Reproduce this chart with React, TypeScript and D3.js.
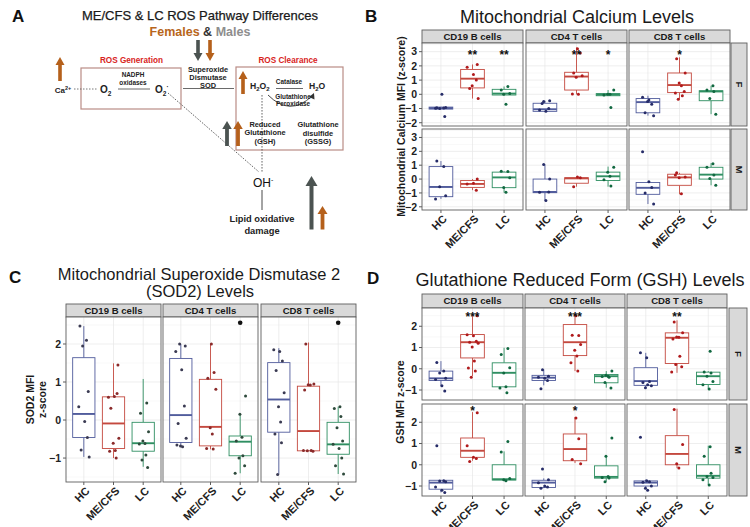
import React from "react";
import * as d3 from "d3";

// ---------- categories ----------
const GROUPS = ["HC", "ME/CFS", "LC"];
const CELLS = ["CD19 B cells", "CD4 T cells", "CD8 T cells"];
const SEXES = ["F", "M"];

// ---------- tick values ----------
const CA_TICKS = [-2, -1, 0, 1, 2, 3];
const SOD_TICKS = [-1, 0, 1, 2];
const GSH_TICKS = [-1, 0, 1, 2];

// ---------- box stats: [lower whisker, Q1, median, Q3, upper whisker] per cell type, per group ----------
const calciumBoxF = [
  [[-1.05, -1.04, -0.97, -0.9, -0.88], [-0.3, 0.45, 1.1, 1.75, 2.1], [-0.05, -0.05, 0.05, 0.35, 0.55]],
  [[-1.25, -1.2, -1.05, -0.63, -0.45], [0.0, 0.3, 1.25, 1.55, 3.3], [-0.1, -0.1, -0.02, 0.05, 0.3]],
  [[-1.5, -1.3, -0.55, -0.3, -0.1], [-0.35, 0.12, 0.65, 1.5, 2.6], [-1.4, -0.45, 0.2, 0.25, 0.6]],
];
const calciumBoxM = [
  [[-1.43, -1.27, -0.57, 0.9, 1.3], [-0.8, -0.6, -0.35, -0.1, 0.0], [-0.98, -0.62, 0.12, 0.5, 0.57]],
  [[-1.55, -0.98, -0.93, 0.0, 1.05], [-0.55, -0.3, 0.05, 0.1, 0.15], [-0.55, -0.1, 0.2, 0.5, 0.9]],
  [[-1.8, -1.1, -0.63, -0.25, -0.2], [-1.1, -0.45, 0.12, 0.35, 0.45], [-0.45, 0.0, 0.32, 0.85, 1.15]],
];
const sod2Box = [
  [[-0.97, -0.46, 0.16, 1.64, 2.47], [-1.0, -0.75, -0.09, 0.61, 1.49], [-1.23, -0.82, -0.61, -0.06, 1.08]],
  [[-0.7, -0.59, 0.13, 1.62, 2.0], [-0.77, -0.68, -0.18, 1.07, 2.0], [-1.4, -0.94, -0.57, -0.42, 0.15]],
  [[-1.43, -0.32, 0.54, 1.51, 1.89], [-0.81, -0.81, -0.29, 0.89, 2.04], [-1.42, -0.9, -0.64, -0.06, 0.35]],
];
const gshBoxF = [
  [[-0.81, -0.55, -0.45, -0.11, 0.36], [-0.35, 0.51, 1.25, 1.61, 2.55], [-0.85, -0.85, -0.19, 0.28, 0.99]],
  [[-0.78, -0.55, -0.42, -0.31, -0.03], [-0.11, 0.62, 1.25, 2.08, 2.55], [-0.89, -0.66, -0.35, -0.27, -0.11]],
  [[-0.89, -0.78, -0.58, 0.05, 0.75], [-0.19, 0.25, 1.46, 1.69, 2.28], [-0.97, -0.74, -0.35, -0.16, -0.11]],
];
const gshBoxM = [
  [[-1.3, -1.15, -0.84, -0.73, -0.73], [0.19, 0.35, 0.66, 1.26, 2.48], [-0.75, -0.72, -0.68, 0.0, 0.63]],
  [[-1.1, -1.07, -0.84, -0.73, -0.64], [0.08, 0.19, 0.74, 1.45, 2.24], [-0.79, -0.63, -0.57, -0.05, 0.43]],
  [[-1.1, -1.0, -0.84, -0.76, -0.7], [-0.16, 0.0, 0.51, 1.37, 2.64], [-0.95, -0.63, -0.52, 0.0, 0.9]],
];

// ---------- individual points per cell type, per group ----------
const calciumPtsF = [
  [[-0.95, -0.97, -1.0, -0.93, -0.98, 0.0, -1.57], [2.1, 1.9, 1.4, 1.0, 0.4, -0.3, 0.6], [0.55, 0.3, 0.05, 0.0, -0.7]],
  [[-0.5, -0.45, -1.1, -1.2, -1.0, -0.65], [3.2, 2.9, 1.5, 1.3, 1.2, 0.0, 0.02], [0.3, 0.0, 0.0, -0.05, -0.92]],
  [[-0.2, -0.4, -0.7, -1.3, -1.5, -0.5], [2.5, 1.5, 0.8, 0.6, 0.1, -0.1, -0.35, 0.2], [0.6, 0.3, 0.2, -0.3, -1.4]],
];
const calciumPtsM = [
  [[1.3, 0.9, -0.55, -1.2, -1.43], [0.0, -0.35, -0.3, -0.8], [0.55, 0.57, 0.1, -0.6, -0.95]],
  [[1.05, 0.0, -0.95, -1.55, -0.93], [0.15, 0.1, -0.55], [0.85, 0.5, 0.2, -0.05, -0.5]],
  [[1.97, -0.2, -0.6, -1.0, -1.8], [0.45, 0.15, 0.1, -1.05, 0.3], [1.1, 0.85, 0.3, 0.05, -0.45]],
];
const sod2Pts = [
  [[2.47, 2.1, 1.95, 0.75, 0.35, -0.04, -0.46, -0.79, -0.97], [1.45, 0.6, 0.62, 0.7, 0.31, -0.48, -0.61, -0.8, -0.82, -1.0], [0.45, 0.18, -0.31, -0.55, -0.62, -0.63, -0.92, -1.05, -1.25]],
  [[2.0, 1.95, 1.8, 1.32, 0.37, -0.09, -0.48, -0.68, -0.7, -0.66], [2.0, 1.25, 1.1, 0.81, -0.2, -0.37, -0.75, -0.76], [0.63, 0.15, -0.45, -0.55, -0.94, -1.0, -1.2, -1.4]],
  [[1.85, 1.8, 1.55, 1.3, 0.72, 0.35, -0.05, -0.37, -0.6, -1.43], [2.0, 0.95, 0.93, 0.92, 0.79, -0.8, -0.81, -0.82, -0.8], [0.35, 0.3, 0.09, -0.2, -0.55, -0.64, -0.75, -1.0, -1.2, -1.42]],
];
const gshPtsF = [
  [[0.3, -0.1, -0.2, -0.45, -0.5, -0.8, -1.05], [2.5, 1.6, 1.55, 1.3, 1.25, 1.2, 1.03, 0.36, 0.04, -0.1, -0.4], [0.95, 0.67, 0.05, -0.2, -0.85, -0.9, -1.13]],
  [[-0.05, -0.35, -0.4, -0.45, -0.55, -0.94], [2.5, 1.56, 1.58, 1.14, 0.87, 0.6, 0.28, -0.1], [-0.1, -0.3, -0.35, -0.36, -0.4, -0.65, -0.9]],
  [[0.75, 0.52, -0.6, -0.65, -0.8, -0.89, -0.75], [2.2, 1.7, 1.5, 1.48, 1.4, 0.59, 0.2, 0.1, -0.15], [0.83, -0.15, -0.2, -0.35, -0.6, -0.75, -0.95]],
];
const gshPtsM = [
  [[0.9, -0.75, -0.76, -0.8, -1.05, -1.2, -1.3], [2.45, 0.9, 0.35, 0.3, 0.15], [1.1, 0.6, -0.65, -0.7, -0.75]],
  [[-0.2, -0.7, -0.85, -1.0, -1.05, -1.1], [2.2, 1.22, 0.25, 0.05], [1.26, 0.4, -0.55, -0.6, -0.62, -0.8]],
  [[1.29, -0.75, -0.8, -0.82, -1.0, -1.1, -1.2], [2.6, 0.95, 0.05, -0.15], [0.85, 0.4, -0.4, -0.55, -0.6, -0.7, -0.95]],
];

// ---------- significance labels per cell type, per group ----------
const calciumStarsF = [["", "**", "**"], ["", "**", "*"], ["", "*", ""]];
const calciumStarsM = [["", "", ""], ["", "", ""], ["", "", ""]];
const sod2Stars = [["", "", ""], ["", "", "•"], ["", "", "•"]];
const gshStarsF = [["", "***", ""], ["", "***", ""], ["", "**", ""]];
const gshStarsM = [["", "*", ""], ["", "*", ""], ["", "", ""]];
const STAR_LEVELS = { calcium: [3.0, 3.0], sod2: [2.56], gsh: [2.62, 2.68] };

// ---------- styling ----------
const FONT = "'Liberation Sans', Arial, Helvetica, sans-serif";
const BOX_COLORS = ["#515c9c", "#c4493f", "#2f8f62"];
const PT_COLORS = ["#262c68", "#b01a1c", "#116840"];
const JITTER = [-0.13, 0.09, -0.04, 0.15, -0.17, 0.03, 0.12, -0.09, 0.18, -0.01, 0.06];
const ORANGE = "#b5601b";
const DARK = "#4b5351";

type FacetProps = {
  panels: number[][];
  rows: number[][];
  domain: number[];
  ticks: number[];
  boxes: number[][][][];
  points: number[][][][];
  stars: string[][][];
  starLevels: number[];
  strip: number[];
  rightStrip?: number[];
  ptColors: string[];
  yTitle: string[];
  yTitleX: number[];
  pfx: string;
};

function Facets(p: FacetProps) {
  const els: React.ReactNode[] = [];
  const k = (s: string) => `${p.pfx}-${s}`;
  p.panels.forEach(([a, b], ci) => {
    els.push(<rect key={k(`st${ci}`)} x={a} y={p.strip[0]} width={b - a} height={p.strip[1] - p.strip[0]} fill="#d9d9d9" stroke="#5e5e5e" strokeWidth={0.9} />);
    els.push(
      <text key={k(`stt${ci}`)} x={(a + b) / 2} y={(p.strip[0] + p.strip[1]) / 2} dy="0.36em" textAnchor="middle" fontWeight="bold" fontSize={9.6} fill="#1a1a1a">
        {CELLS[ci]}
      </text>
    );
  });
  p.rows.forEach(([r0, r1], ri) => {
    const y = d3.scaleLinear().domain(p.domain).range([r1, r0]);
    const last = ri === p.rows.length - 1;
    if (p.rightStrip) {
      const [s0, s1] = p.rightStrip;
      els.push(<rect key={k(`rs${ri}`)} x={s0} y={r0} width={s1 - s0} height={r1 - r0} fill="#d9d9d9" stroke="#5e5e5e" strokeWidth={0.9} />);
      els.push(
        <text key={k(`rst${ri}`)} transform={`translate(${(s0 + s1) / 2},${(r0 + r1) / 2}) rotate(90)`} dy="0.36em" textAnchor="middle" fontWeight="bold" fontSize={9.6} fill="#1a1a1a">
          {SEXES[ri]}
        </text>
      );
    }
    const px0 = p.panels[0][0];
    p.ticks.forEach((t) => {
      els.push(<line key={k(`yt${ri}${t}`)} x1={px0 - 3} x2={px0} y1={y(t)} y2={y(t)} stroke="#333" strokeWidth={0.8} />);
      els.push(
        <text key={k(`ytl${ri}${t}`)} x={px0 - 5} y={y(t)} dy="0.36em" textAnchor="end" fontWeight="bold" fontSize={10.5} fill="#222">
          {t < 0 ? `\u2212${Math.abs(t)}` : t}
        </text>
      );
    });
    const minor = d3.range(Math.ceil(p.domain[0] * 2) / 2, p.domain[1], 0.5).filter((v) => !Number.isInteger(v));
    p.panels.forEach(([a, b], ci) => {
      const x = d3.scalePoint<string>().domain(GROUPS).range([a, b]).padding(0.6);
      const step = x.step();
      const bw = step * 0.75;
      els.push(<rect key={k(`bg${ri}${ci}`)} x={a} y={r0} width={b - a} height={r1 - r0} fill="#ffffff" />);
      minor.forEach((m) => els.push(<line key={k(`mg${ri}${ci}${m}`)} x1={a} x2={b} y1={y(m)} y2={y(m)} stroke="#f0f0f0" strokeWidth={0.5} />));
      p.ticks.forEach((t) => els.push(<line key={k(`g${ri}${ci}${t}`)} x1={a} x2={b} y1={y(t)} y2={y(t)} stroke="#e6e6e6" strokeWidth={0.7} />));
      GROUPS.forEach((g) => els.push(<line key={k(`vg${ri}${ci}${g}`)} x1={x(g)} x2={x(g)} y1={r0} y2={r1} stroke="#e6e6e6" strokeWidth={0.7} />));
      GROUPS.forEach((g, gi) => {
        const [lo, q1, md, q3, hi] = p.boxes[ri][ci][gi];
        const cx = x(g) as number;
        const col = BOX_COLORS[gi];
        els.push(<line key={k(`wh${ri}${ci}${gi}`)} x1={cx} x2={cx} y1={y(hi)} y2={y(q3)} stroke={col} strokeWidth={0.9} />);
        els.push(<line key={k(`wl${ri}${ci}${gi}`)} x1={cx} x2={cx} y1={y(q1)} y2={y(lo)} stroke={col} strokeWidth={0.9} />);
        els.push(<rect key={k(`bx${ri}${ci}${gi}`)} x={cx - bw / 2} y={y(q3)} width={bw} height={Math.max(1, y(q1) - y(q3))} fill="#ffffff" stroke={col} strokeWidth={0.9} />);
        els.push(<line key={k(`md${ri}${ci}${gi}`)} x1={cx - bw / 2} x2={cx + bw / 2} y1={y(md)} y2={y(md)} stroke={col} strokeWidth={1.9} />);
        p.points[ri][ci][gi].forEach((v, i) => {
          const j = JITTER[(i + gi * 3 + ci * 2) % JITTER.length];
          els.push(<circle key={k(`pt${ri}${ci}${gi}${i}`)} cx={cx + j * step} cy={y(v)} r={1.5} fill={p.ptColors[gi]} />);
        });
        const s = p.stars[ri][ci][gi];
        if (s === "•") {
          els.push(<circle key={k(`sd${ri}${ci}${gi}`)} cx={cx} cy={y(p.starLevels[ri])} r={2.3} fill="#111" />);
        } else if (s) {
          els.push(
            <text key={k(`sx${ri}${ci}${gi}`)} x={cx} y={y(p.starLevels[ri])} dy="0.62em" textAnchor="middle" fontWeight="bold" fontSize={12} fill="#111">
              {s}
            </text>
          );
        }
        if (last) {
          els.push(<line key={k(`xt${ci}${gi}`)} x1={cx} x2={cx} y1={r1} y2={r1 + 3} stroke="#333" strokeWidth={0.8} />);
          els.push(
            <text key={k(`xl${ci}${gi}`)} transform={`translate(${cx + 1},${r1 + 4}) rotate(-45)`} dy="0.72em" textAnchor="end" fontWeight="bold" fontSize={11} fill="#222">
              {g}
            </text>
          );
        }
      });
      els.push(<rect key={k(`bd${ri}${ci}`)} x={a} y={r0} width={b - a} height={r1 - r0} fill="none" stroke="#5e5e5e" strokeWidth={0.9} />);
    });
  });
  const cy = (p.rows[0][0] + p.rows[p.rows.length - 1][1]) / 2;
  p.yTitle.forEach((line, i) => {
    els.push(
      <text key={k(`yti${i}`)} transform={`translate(${p.yTitleX[i]},${cy}) rotate(-90)`} dy="0.36em" textAnchor="middle" fontWeight="bold" fontSize={10.5} fill="#1a1a1a">
        {line}
      </text>
    );
  });
  return <g>{els}</g>;
}

function Arrow({ x, yBase, yTip, color, shaft = 4, head = 10, headLen = 8 }: { x: number; yBase: number; yTip: number; color: string; shaft?: number; head?: number; headLen?: number }) {
  const dir = yTip < yBase ? -1 : 1;
  const neck = yTip - dir * headLen;
  return (
    <g fill={color}>
      <rect x={x - shaft / 2} y={Math.min(yBase, neck)} width={shaft} height={Math.abs(yBase - neck)} />
      <polygon points={`${x - head / 2},${neck} ${x + head / 2},${neck} ${x},${yTip}`} />
    </g>
  );
}

function PanelA() {
  const t = { fontWeight: "bold" as const, fill: "#222" };
  return (
    <g>
      <text x={200} y={20} textAnchor="middle" fontSize={13} fill="#1a1a1a" stroke="#1a1a1a" strokeWidth={0.25}>
        ME/CFS &amp; LC ROS Pathway Differences
      </text>
      <text x={200} y={36} textAnchor="middle" fontSize={12.5} fontWeight="bold">
        <tspan fill="#b8661c">Females</tspan>
        <tspan fill="#333"> &amp; </tspan>
        <tspan fill="#8e8e8e">Males</tspan>
      </text>
      <Arrow x={198} yBase={40} yTip={61} color={DARK} shaft={3.6} head={9} headLen={8} />
      <Arrow x={210} yBase={40} yTip={61} color={ORANGE} shaft={3.6} head={9} headLen={8} />
      <text x={131.5} y={63} textAnchor="middle" fontSize={8.2} fontWeight="bold" fill="#d8231c">ROS Generation</text>
      <text x={288} y={63} textAnchor="middle" fontSize={8.2} fontWeight="bold" fill="#d8231c">ROS Clearance</text>
      <rect x={81} y={68} width={100} height={41} fill="none" stroke="#b98c85" strokeWidth={1.2} />
      <rect x={236} y={67} width={107} height={83} fill="none" stroke="#b98c85" strokeWidth={1.2} />
      <Arrow x={60} yBase={81} yTip={57} color={ORANGE} shaft={3.6} head={9} headLen={8} />
      <text x={63} y={93} textAnchor="middle" fontSize={8} {...t}>
        Ca<tspan fontSize={5.5} dy={-3.5}>2+</tspan>
      </text>
      <line x1={74} x2={97} y1={89} y2={89} stroke="#555" strokeWidth={0.8} strokeDasharray="1.5,1.5" />
      <text x={100} y={93} fontSize={10} {...t}>
        O<tspan fontSize={6.5} dy={2.5}>2</tspan>
      </text>
      <text x={133} y={77} textAnchor="middle" fontSize={6.4} {...t}>NADPH</text>
      <text x={133} y={84.5} textAnchor="middle" fontSize={6.4} {...t}>oxidases</text>
      <line x1={118} x2={150} y1={89} y2={89} stroke="#444" strokeWidth={0.8} />
      <text x={155} y={93} fontSize={10} {...t}>
        O<tspan fontSize={6.5} dy={2.5}>2</tspan>
        <tspan fontSize={6.5} dy={-7}>·</tspan>
      </text>
      <line x1={183} x2={234} y1={88.5} y2={88.5} stroke="#444" strokeWidth={0.8} />
      <text x={208} y={71.5} textAnchor="middle" fontSize={7.4} {...t}>Superoxide</text>
      <text x={208} y={79.5} textAnchor="middle" fontSize={7.4} {...t}>Dismutase</text>
      <text x={208} y={87.5} textAnchor="middle" fontSize={7.4} {...t}>SOD</text>
      <Arrow x={243} yBase={94} yTip={71} color={ORANGE} shaft={3.6} head={9} headLen={8} />
      <text x={250} y={89} fontSize={8.6} {...t}>
        H<tspan fontSize={6} dy={2}>2</tspan>
        <tspan dy={-2}>O</tspan>
        <tspan fontSize={6} dy={2}>2</tspan>
      </text>
      <text x={289} y={84} textAnchor="middle" fontSize={6.4} {...t}>Catalase</text>
      <line x1={276} x2={303} y1={88.5} y2={88.5} stroke="#444" strokeWidth={0.8} />
      <text x={309} y={89} fontSize={8.6} {...t}>
        H<tspan fontSize={6} dy={2}>2</tspan>
        <tspan dy={-2}>O</tspan>
      </text>
      <path d="M268,95 Q290,117 312,96" fill="none" stroke="#333" strokeWidth={0.9} />
      <polygon points="314,93 314.5,99.5 309,97" fill="#333" />
      <text x={293} y={98.5} textAnchor="middle" fontSize={6.4} {...t}>Glutathione</text>
      <text x={293} y={106} textAnchor="middle" fontSize={6.4} {...t}>Peroxidase</text>
      <line x1={262} x2={262} y1={95} y2={172} stroke="#555" strokeWidth={0.9} strokeDasharray="1.6,1.4" />
      <line x1={168} x2={259} y1={93} y2={172} stroke="#555" strokeWidth={0.9} strokeDasharray="1.6,1.4" />
      <Arrow x={227} yBase={146} yTip={121} color={DARK} shaft={3.8} head={9.5} headLen={8} />
      <Arrow x={238} yBase={146} yTip={121} color={ORANGE} shaft={3.8} head={9.5} headLen={8} />
      <text x={265} y={126.5} textAnchor="middle" fontSize={7.4} {...t}>Reduced</text>
      <text x={265} y={135} textAnchor="middle" fontSize={7.4} {...t}>Glutathione</text>
      <text x={265} y={143.5} textAnchor="middle" fontSize={7.4} {...t}>(GSH)</text>
      <text x={318} y={127} textAnchor="middle" fontSize={7.4} {...t}>Glutathione</text>
      <text x={318} y={135.5} textAnchor="middle" fontSize={7.4} {...t}>disulfide</text>
      <text x={318} y={144} textAnchor="middle" fontSize={7.4} {...t}>(GSSG)</text>
      <text x={253} y={187} fontSize={12} fill="#111">
        OH<tspan fontSize={7} dy={-5}>-</tspan>
      </text>
      <line x1={262} x2={262} y1={190} y2={210} stroke="#333" strokeWidth={0.9} />
      <text x={262} y={222} textAnchor="middle" fontSize={9.3} {...t}>Lipid oxidative</text>
      <text x={262} y={233.5} textAnchor="middle" fontSize={9.3} {...t}>damage</text>
      <Arrow x={311.5} yBase={229.5} yTip={176} color={DARK} shaft={4} head={12} headLen={10} />
      <Arrow x={322.5} yBase={229.5} yTip={206} color={ORANGE} shaft={3.8} head={10} headLen={8} />
    </g>
  );
}

export default function App() {
  return (
    <svg width={750} height={527} viewBox="0 0 750 527" style={{ position: "fixed", left: 0, top: 0, background: "#fff", fontFamily: FONT }}>
      <rect x={0} y={0} width={750} height={527} fill="#ffffff" />
      {/* panel letters */}
      <text x={12} y={22} fontSize={17} fontWeight="bold" fill="#111">A</text>
      <text x={365} y={22} fontSize={17} fontWeight="bold" fill="#111">B</text>
      <text x={9} y={283} fontSize={17} fontWeight="bold" fill="#111">C</text>
      <text x={367} y={284} fontSize={17} fontWeight="bold" fill="#111">D</text>

      <PanelA />

      {/* B */}
      <text x={577} y={23} textAnchor="middle" fontSize={18} fill="#1a1a1a">Mitochondrial Calcium Levels</text>
      <Facets
        pfx="B"
        panels={[[422, 523], [526, 627], [629, 730]]}
        rows={[[43, 126], [129, 210]]}
        domain={[-2.23, 3.61]}
        ticks={CA_TICKS}
        boxes={[calciumBoxF, calciumBoxM]}
        points={[calciumPtsF, calciumPtsM]}
        stars={[calciumStarsF, calciumStarsM]}
        starLevels={STAR_LEVELS.calcium}
        strip={[30, 43]}
        rightStrip={[731, 747]}
        ptColors={PT_COLORS}
        yTitle={["Mitochondrial Calcium MFI (z-score)"]}
        yTitleX={[401]}
      />

      {/* C */}
      <text x={199} y={280} textAnchor="middle" fontSize={16.5} fill="#1a1a1a">Mitochondrial Superoxide Dismutase 2</text>
      <text x={200} y={297} textAnchor="middle" fontSize={16.5} fill="#1a1a1a">(SOD2) Levels</text>
      <Facets
        pfx="C"
        panels={[[66, 161], [163, 258], [261, 356]]}
        rows={[[317, 482]]}
        domain={[-1.63, 2.71]}
        ticks={SOD_TICKS}
        boxes={[sod2Box]}
        points={[sod2Pts]}
        stars={[sod2Stars]}
        starLevels={STAR_LEVELS.sod2}
        strip={[304, 317]}
        ptColors={["#3a3a52", "#8a2a2a", "#2e4a3c"]}
        yTitle={["SOD2 MFI", "z-score"]}
        yTitleX={[30, 42]}
      />

      {/* D */}
      <text x={580} y={286} textAnchor="middle" fontSize={18} fill="#1a1a1a">Glutathione Reduced Form (GSH) Levels</text>
      <Facets
        pfx="D"
        panels={[[422, 523], [525, 625], [627, 727]]}
        rows={[[308, 400], [404, 496]]}
        domain={[-1.47, 2.86]}
        ticks={GSH_TICKS}
        boxes={[gshBoxF, gshBoxM]}
        points={[gshPtsF, gshPtsM]}
        stars={[gshStarsF, gshStarsM]}
        starLevels={STAR_LEVELS.gsh}
        strip={[294, 308]}
        rightStrip={[729, 747]}
        ptColors={PT_COLORS}
        yTitle={["GSH MFI z-score"]}
        yTitleX={[400]}
      />
    </svg>
  );
}
